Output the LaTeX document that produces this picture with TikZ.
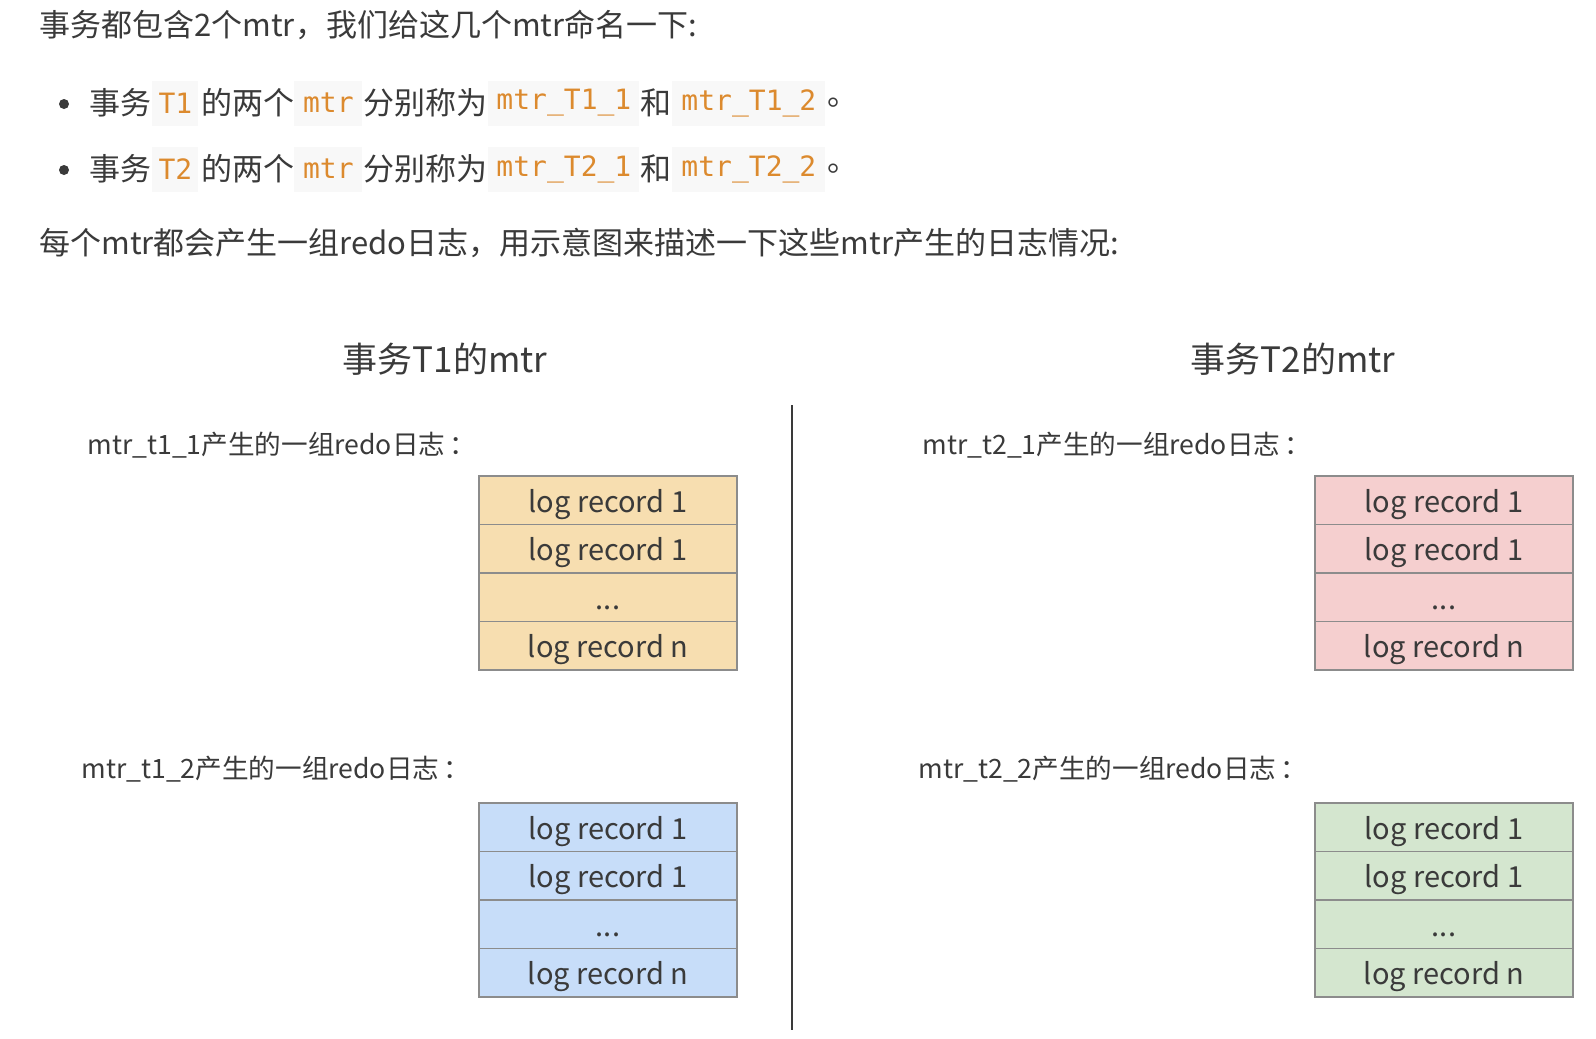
\documentclass[tikz,border=0pt]{standalone}
\usepackage{fontspec}
\setmainfont{Noto Sans CJK SC}
\setmonofont{DejaVu Sans Mono}
\definecolor{txt}{HTML}{3A3A3A}
\definecolor{codeor}{HTML}{DC8A2E}
\definecolor{codebg}{HTML}{F8F8F8}
\definecolor{yel}{HTML}{F7DEB0}
\definecolor{pnk}{HTML}{F5CFCF}
\definecolor{blu}{HTML}{C7DDF9}
\definecolor{grn}{HTML}{D4E6CF}
\definecolor{bord}{HTML}{8C8C8C}
\begin{document}
\begin{tikzpicture}[x=0.5pt,y=-0.5pt,
  body/.style={anchor=west, inner sep=0pt, text=txt, font=\fontsize{15.5}{18}\selectfont},
  code/.style={anchor=west, inner sep=0pt, fill=codebg, text=codeor, minimum height=22.5pt, font=\ttfamily\fontsize{14}{16}\selectfont},
  head/.style={inner sep=0pt, text=txt, font=\fontsize{17.5}{20}\selectfont},
  lbl/.style={anchor=west, inner sep=0pt, text=txt, font=\fontsize{13.3}{15}\selectfont},
  rec/.style={draw=bord, line width=0.75pt, fill=#1, minimum width=129pt, minimum height=24.25pt, inner sep=0pt, text height=13pt, text depth=1pt, text=txt, font=\fontsize{14.5}{17}\selectfont},
  dot/.style={circle, fill=txt, minimum size=5pt, inner sep=0pt}
]
\useasboundingbox[fill=white] (0,0) rectangle (1596,1039);

% intro text
\node[body] (intro) at (39,25) {事务都包含2个mtr，我们给这几个mtr命名一下:};

% bullet 1
\node[dot] (d1) at (64,104) {};
\node[body] (a1) at (89,103) {事务};
\node[code, minimum width=23pt] (a2) at (152,103) {T1};
\node[body] (a3) at (201,103) {的两个};
\node[code, minimum width=34pt] (a4) at (294,103) {mtr};
\node[body] (a5) at (363,103) {分别称为};
\node[code, minimum width=75.5pt] (a6) at (488,103) {mtr\_T1\_1};
\node[body] (a7) at (640,103) {和};
\node[code, minimum width=76.5pt] (a8) at (672,103) {mtr\_T1\_2};
\node[body] (a9) at (827,103) {。};

% bullet 2
\node[dot] (d2) at (64,170) {};
\node[body] (b1) at (89,169) {事务};
\node[code, minimum width=23pt] (b2) at (152,169) {T2};
\node[body] (b3) at (201,169) {的两个};
\node[code, minimum width=34pt] (b4) at (294,169) {mtr};
\node[body] (b5) at (363,169) {分别称为};
\node[code, minimum width=75.5pt] (b6) at (488,169) {mtr\_T2\_1};
\node[body] (b7) at (640,169) {和};
\node[code, minimum width=76.5pt] (b8) at (672,169) {mtr\_T2\_2};
\node[body] (b9) at (827,169) {。};

\node[body] (para) at (39,243) {每个mtr都会产生一组redo日志，用示意图来描述一下这些mtr产生的日志情况:};

% headings
\node[head] (h1) at (445,359) {事务T1的mtr};
\node[head] (h2) at (1293,359) {事务T2的mtr};

% divider
\coordinate (vtop) at (792,405);
\coordinate (vbot) at (792,1030);
\draw[line width=1pt, txt] (vtop) -- (vbot);

% labels
\node[lbl] (l11) at (87,445) {mtr\_t1\_1产生的一组redo日志\,：};
\node[lbl] (l12) at (81,769) {mtr\_t1\_2产生的一组redo日志\,：};
\node[lbl] (l21) at (922,445) {mtr\_t2\_1产生的一组redo日志\,：};
\node[lbl] (l22) at (918,769) {mtr\_t2\_2产生的一组redo日志\,：};

% T1 mtr 1 (yellow)
\node[rec=yel] (y1) at (608,500) {log record 1};
\node[rec=yel] (y2) at (608,548.5) {log record 1};
\node[rec=yel] (y3) at (608,597) {...};
\node[rec=yel] (y4) at (608,645.5) {log record n};
% T1 mtr 2 (blue)
\node[rec=blu] (u1) at (608,827) {log record 1};
\node[rec=blu] (u2) at (608,875.5) {log record 1};
\node[rec=blu] (u3) at (608,924) {...};
\node[rec=blu] (u4) at (608,972.5) {log record n};
% T2 mtr 1 (pink)
\node[rec=pnk] (p1) at (1444,500) {log record 1};
\node[rec=pnk] (p2) at (1444,548.5) {log record 1};
\node[rec=pnk] (p3) at (1444,597) {...};
\node[rec=pnk] (p4) at (1444,645.5) {log record n};
% T2 mtr 2 (green)
\node[rec=grn] (g1) at (1444,827) {log record 1};
\node[rec=grn] (g2) at (1444,875.5) {log record 1};
\node[rec=grn] (g3) at (1444,924) {...};
\node[rec=grn] (g4) at (1444,972.5) {log record n};
\end{tikzpicture}
\end{document}
